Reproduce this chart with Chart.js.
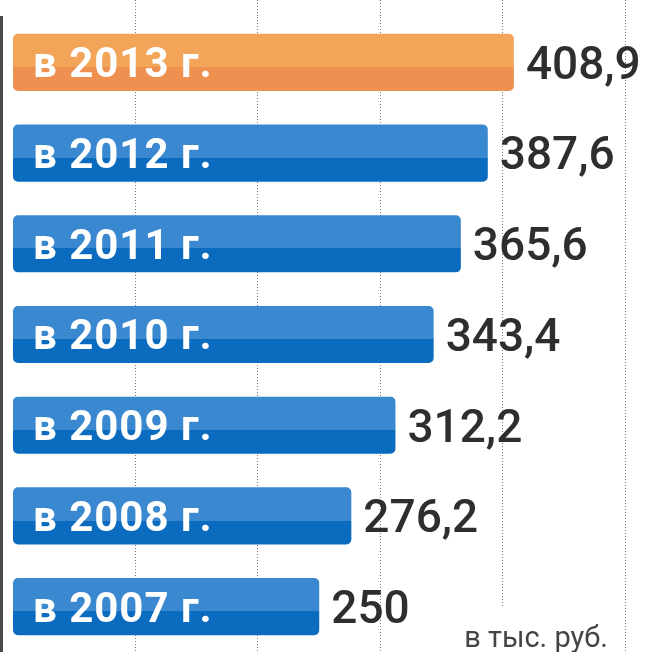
<!DOCTYPE html>
<html>
<head>
<meta charset="utf-8">
<script src="https://cdn.jsdelivr.net/npm/chart.js@4/dist/chart.umd.min.js"></script>
<style>
  html, body { margin: 0; padding: 0; background: #ffffff; }
  #wrap { position: relative; width: 649px; height: 652px; }
</style>
</head>
<body>
<div id="wrap"><canvas id="c"></canvas></div>
<script>
// ---- data ----
const categories = ['в 2013 г.', 'в 2012 г.', 'в 2011 г.', 'в 2010 г.', 'в 2009 г.', 'в 2008 г.', 'в 2007 г.'];
const values = [408.9, 387.6, 365.6, 343.4, 312.2, 276.2, 250];
const gridTicks = [100, 200, 300, 400, 500];
const unitNote = 'в тыс. руб.';

// ---- styles ----
const topColors = ['#f2a459', '#3a88cf', '#3a88cf', '#3a88cf', '#3a88cf', '#3a88cf', '#3a88cf'];
const bottomColors = ['#ee9150', '#0a6bbf', '#0a6bbf', '#0a6bbf', '#0a6bbf', '#0a6bbf', '#0a6bbf'];
const BAR_FRACTION = 0.63;
const SPLIT = 0.58;

function barFill(context) {
  const i = context.dataIndex;
  const chart = context.chart;
  const ys = chart.scales && chart.scales.y;
  if (!ys || !isFinite(ys.height) || ys.height <= 0) return topColors[i];
  const yc = ys.getPixelForValue(i);
  const h = (ys.height / categories.length) * BAR_FRACTION;
  const g = chart.ctx.createLinearGradient(0, yc - h / 2, 0, yc + h / 2);
  g.addColorStop(0, topColors[i]);
  g.addColorStop(SPLIT, topColors[i]);
  g.addColorStop(SPLIT, bottomColors[i]);
  g.addColorStop(1, bottomColors[i]);
  return g;
}

const labelPlugin = {
  id: 'labels',
  afterDatasetsDraw(chart) {
    const ctx = chart.ctx;
    const meta = chart.getDatasetMeta(0);
    ctx.save();
    meta.data.forEach((el, i) => {
      // category label inside bar
      const inSize = 42;
      ctx.font = 'bold ' + inSize + 'px Roboto, "DejaVu Sans", sans-serif';
      ctx.letterSpacing = '1px';
      ctx.fillStyle = '#ffffff';
      ctx.textAlign = 'left';
      ctx.textBaseline = 'alphabetic';
      ctx.fillText(categories[i], el.base + 20, el.y + inSize * 0.355);
      ctx.letterSpacing = '0px';
      // value label after bar
      const vSize = 46;
      ctx.font = '500 ' + vSize + 'px Roboto, "DejaVu Sans", sans-serif';
      ctx.fillStyle = '#2e2e2e';
      ctx.fillText(String(values[i]).replace('.', ','), el.x + 12, el.y + vSize * 0.355);
    });
    // unit note bottom right
    const a = chart.chartArea;
    ctx.font = '29px Roboto, "DejaVu Sans", sans-serif';
    const w = ctx.measureText(unitNote).width;
    const xr = a.right - 41;
    ctx.fillStyle = '#ffffff';
    ctx.fillRect(xr - w - 6, a.bottom - 45, w + 10, 45);
    ctx.fillStyle = '#444444';
    ctx.textAlign = 'right';
    ctx.fillText(unitNote, xr, a.bottom - 5);
    ctx.restore();
  }
};

new Chart(document.getElementById('c'), {
  type: 'bar',
  data: {
    labels: categories,
    datasets: [{
      data: values,
      backgroundColor: barFill,
      borderWidth: 0,
      borderRadius: 5,
      borderSkipped: false,
      barPercentage: BAR_FRACTION,
      categoryPercentage: 1
    }]
  },
  options: {
    indexAxis: 'y',
    responsive: true,
    maintainAspectRatio: false,
    animation: false,
    layout: { padding: { left: 1, right: 0, top: 0, bottom: 0 } },
    plugins: { legend: { display: false }, tooltip: { enabled: false } },
    scales: {
      x: {
        position: 'top',
        min: -9.8,
        max: 519.2,
        afterBuildTicks: (s) => { s.ticks = gridTicks.map(v => ({ value: v })); },
        ticks: { display: false },
        grid: { color: '#7a7a7a', lineWidth: 1, drawTicks: true, tickLength: 17, tickColor: '#7a7a7a', tickBorderDash: [1, 2] },
        border: { display: false, dash: [1, 2] }
      },
      y: {
        ticks: { display: false },
        grid: { display: false, drawTicks: false },
        border: { display: true, color: '#4a4a4a', width: 3, dash: [2, 1] }
      }
    }
  },
  plugins: [labelPlugin]
});
</script>
</body>
</html>
